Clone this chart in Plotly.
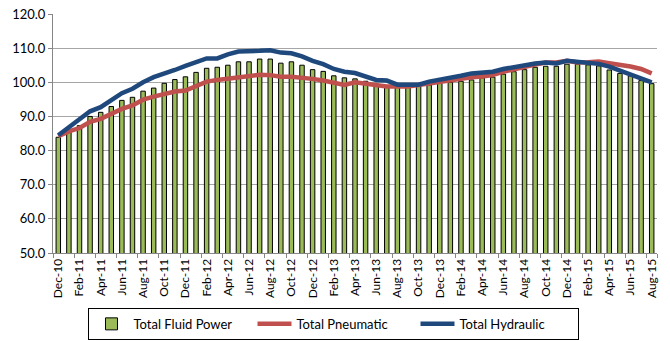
import plotly.graph_objects as go

months = ["Dec-10","Jan-11","Feb-11","Mar-11","Apr-11","May-11","Jun-11","Jul-11","Aug-11","Sep-11","Oct-11","Nov-11",
          "Dec-11","Jan-12","Feb-12","Mar-12","Apr-12","May-12","Jun-12","Jul-12","Aug-12","Sep-12","Oct-12","Nov-12",
          "Dec-12","Jan-13","Feb-13","Mar-13","Apr-13","May-13","Jun-13","Jul-13","Aug-13","Sep-13","Oct-13","Nov-13",
          "Dec-13","Jan-14","Feb-14","Mar-14","Apr-14","May-14","Jun-14","Jul-14","Aug-14","Sep-14","Oct-14","Nov-14",
          "Dec-14","Jan-15","Feb-15","Mar-15","Apr-15","May-15","Jun-15","Jul-15","Aug-15"]

fluid_power = [83.9, 85.6, 87.3, 90.0, 91.2, 92.9, 94.7, 95.6, 97.4, 98.3, 99.7, 100.8,
               101.6, 102.9, 104.1, 104.4, 105.0, 106.0, 106.0, 106.8, 106.8, 105.6, 106.0, 105.0,
               103.7, 103.2, 101.9, 101.3, 101.0, 100.3, 99.3, 98.9, 98.6, 98.6, 98.9, 99.2,
               99.7, 100.0, 100.3, 100.7, 101.3, 101.5, 102.4, 103.1, 103.7, 104.4, 104.7, 104.7,
               105.3, 105.3, 105.1, 104.8, 103.6, 102.6, 101.9, 100.5, 99.6]

pneumatic = [84.2, 85.6, 86.6, 88.4, 89.3, 90.8, 92.2, 93.2, 94.9, 95.8, 96.6, 97.3,
             97.6, 98.8, 100.2, 100.7, 101.0, 101.5, 101.9, 102.2, 102.1, 101.6, 101.6, 101.4,
             101.0, 100.5, 100.0, 99.2, 100.0, 99.5, 99.2, 98.8, 98.8, 98.8, 99.2, 99.7,
             100.2, 100.5, 101.0, 101.5, 101.7, 102.1, 103.1, 103.9, 104.4, 105.2, 105.8, 105.8,
             106.3, 105.8, 105.9, 106.1, 105.6, 105.2, 104.6, 103.9, 102.6]

hydraulic = [84.5, 86.9, 89.3, 91.5, 92.7, 94.7, 96.8, 98.1, 100.0, 101.5, 102.4, 103.6,
             104.8, 105.8, 107.0, 107.0, 108.2, 109.0, 109.0, 109.2, 109.4, 108.7, 108.5, 107.6,
             106.3, 105.3, 103.9, 103.1, 102.7, 101.7, 100.7, 100.5, 99.3, 99.3, 99.3, 100.2,
             100.7, 101.2, 101.9, 102.6, 102.7, 103.1, 103.9, 104.5, 104.8, 105.5, 105.8, 105.5,
             106.3, 106.0, 105.8, 105.4, 104.6, 103.4, 102.3, 101.2, 100.0]

y_ticks = [50, 60, 70, 80, 90, 100, 110, 120]

fig = go.Figure()
fig.add_trace(go.Bar(x=months, y=fluid_power, name="Total Fluid Power",
                     marker=dict(color="#9BBB59", line=dict(color="#000000", width=1)),
                     width=0.42))
fig.add_trace(go.Scatter(x=months, y=pneumatic, name="Total Pneumatic", mode="lines",
                         line=dict(color="#C0504D", width=4.5)))
fig.add_trace(go.Scatter(x=months, y=hydraulic, name="Total Hydraulic", mode="lines",
                         line=dict(color="#1F497D", width=4.5)))

fig.update_layout(
    width=670, height=341,
    margin=dict(l=53, r=13, t=14, b=88, autoexpand=False),
    paper_bgcolor="white", plot_bgcolor="white",
    font=dict(family="Lato, Liberation Sans, sans-serif", size=12, color="#000000"),
    showlegend=True,
    legend=dict(orientation="h", xref="container", yref="container",
                x=0.4985, xanchor="center", y=0.097, yanchor="top",
                bordercolor="#000000", borderwidth=1, font=dict(size=13),
                itemwidth=34, entrywidth=114, entrywidthmode="pixels",
                traceorder="normal"),
)
fig.update_xaxes(type="category", tickmode="array",
                 tickvals=months[::2], ticktext=months[::2], tickangle=-90,
                 tickson="boundaries", automargin=False,
                 showline=True, linecolor="#868686", linewidth=1,
                 ticks="outside", ticklen=4, tickcolor="#868686",
                 showgrid=False, tickfont=dict(size=12))
fig.update_yaxes(range=[50, 120], tickvals=y_ticks, tickformat=".1f",
                 automargin=False,
                 showline=True, linecolor="#868686", linewidth=1,
                 ticks="outside", ticklen=4, tickcolor="#868686",
                 showgrid=True, gridcolor="#A6A6A6", gridwidth=1,
                 zeroline=False, tickfont=dict(size=13))

fig.write_html("out.html")
